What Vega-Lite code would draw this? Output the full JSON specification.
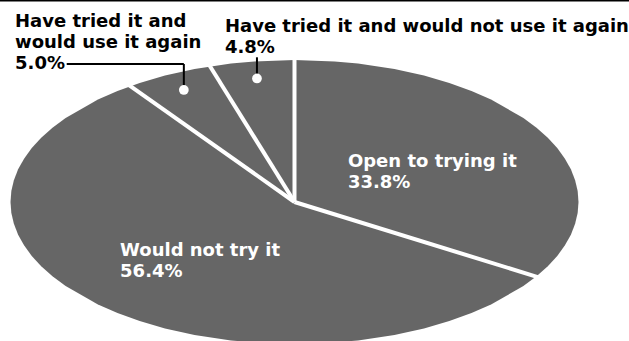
{
  "$schema": "https://vega.github.io/schema/vega-lite/v6.json",
  "width": 629,
  "height": 341,
  "padding": 0,
  "autosize": {"type": "none"},
  "background": "white",
  "config": {
    "view": {"stroke": null},
    "text": {"font": "DejaVu Sans", "fontWeight": "bold", "fontSize": 18}
  },
  "layer": [
    {
      "data": {"sphere": true},
      "mark": {"type": "geoshape", "fill": "#666666", "strokeWidth": 0},
      "projection": {"type": "mollweide", "scale": 100.409, "translate": [294.5, 202]}
    },
    {
      "data": {
        "values": [
          {"answer": "Open to trying it", "pct": 33.8},
          {"answer": "Would not try it", "pct": 56.4},
          {"answer": "Have tried it and would use it again", "pct": 5.0},
          {"answer": "Have tried it and would not use it again", "pct": 4.8}
        ]
      },
      "transform": [
        {"window": [{"op": "sum", "field": "pct", "as": "cum"}], "frame": [null, 0], "ignorePeers": true},
        {"calculate": "2 * PI * (datum.cum - datum.pct) / 100", "as": "a0"},
        {"calculate": "2 * PI * (datum.cum - datum.pct / 2) / 100", "as": "am"},
        {"calculate": "1.02 * sin(datum.a0)", "as": "ex"},
        {"calculate": "1.02 * cos(datum.a0)", "as": "ey"},
        {"calculate": "0.88 * sin(datum.am)", "as": "px"},
        {"calculate": "0.88 * cos(datum.am)", "as": "py"},
        {"calculate": "0.515 * sin(datum.am)", "as": "lx"},
        {"calculate": "0.515 * cos(datum.am)", "as": "ly"},
        {"calculate": "datum.answer + '\\n' + format(datum.pct, '.1f') + '%'", "as": "label"}
      ],
      "layer": [
        {
          "mark": {"type": "rule", "color": "white", "strokeWidth": 4},
          "encoding": {
            "x": {"field": "ex", "type": "quantitative", "scale": {"domain": [-1.03697, 1.17782], "nice": false, "zero": false}, "axis": null},
            "y": {"field": "ey", "type": "quantitative", "scale": {"domain": [-0.97887, 1.42254], "nice": false, "zero": false}, "axis": null},
            "x2": {"datum": 0},
            "y2": {"datum": 0}
          }
        },
        {
          "transform": [{"filter": "datum.pct > 50"}],
          "mark": {"type": "rect", "color": "#000000", "opacity": 1},
          "encoding": {
            "x": {"datum": -1.03697, "type": "quantitative", "scale": {"domain": [-1.03697, 1.17782], "nice": false, "zero": false}, "axis": null},
            "x2": {"datum": 1.17782},
            "y": {"datum": 1.42254, "type": "quantitative", "scale": {"domain": [-0.97887, 1.42254], "nice": false, "zero": false}, "axis": null},
            "y2": {"datum": 1.4126}
          }
        },
        {
          "transform": [{"filter": {"field": "answer", "equal": "Have tried it and would use it again"}}],
          "mark": {"type": "rule", "color": "#000000", "strokeWidth": 2},
          "encoding": {
            "x": {"field": "px", "type": "quantitative", "scale": {"domain": [-1.03697, 1.17782], "nice": false, "zero": false}, "axis": null},
            "y": {"field": "py", "type": "quantitative", "scale": {"domain": [-0.97887, 1.42254], "nice": false, "zero": false}, "axis": null},
            "y2": {"datum": 0.9718}
          }
        },
        {
          "transform": [{"filter": {"field": "answer", "equal": "Have tried it and would use it again"}}],
          "mark": {"type": "rule", "color": "#000000", "strokeWidth": 2},
          "encoding": {
            "x": {"field": "px", "type": "quantitative", "scale": {"domain": [-1.03697, 1.17782], "nice": false, "zero": false}, "axis": null},
            "x2": {"datum": -0.8021},
            "y": {"datum": 0.9718, "type": "quantitative", "scale": {"domain": [-0.97887, 1.42254], "nice": false, "zero": false}, "axis": null}
          }
        },
        {
          "transform": [{"filter": {"field": "answer", "equal": "Have tried it and would not use it again"}}],
          "mark": {"type": "rule", "color": "#000000", "strokeWidth": 2},
          "encoding": {
            "x": {"field": "px", "type": "quantitative", "scale": {"domain": [-1.03697, 1.17782], "nice": false, "zero": false}, "axis": null},
            "y": {"field": "py", "type": "quantitative", "scale": {"domain": [-0.97887, 1.42254], "nice": false, "zero": false}, "axis": null},
            "y2": {"datum": 1.019}
          }
        },
        {
          "transform": [{"filter": "datum.pct < 10"}],
          "mark": {"type": "point", "shape": "circle", "filled": true, "fill": "white", "opacity": 1, "size": 95, "strokeWidth": 0},
          "encoding": {
            "x": {"field": "px", "type": "quantitative", "scale": {"domain": [-1.03697, 1.17782], "nice": false, "zero": false}, "axis": null},
            "y": {"field": "py", "type": "quantitative", "scale": {"domain": [-0.97887, 1.42254], "nice": false, "zero": false}, "axis": null}
          }
        },
        {
          "transform": [{"filter": "datum.pct >= 10"}],
          "mark": {"type": "text", "align": "left", "baseline": "alphabetic", "dx": -74.3, "dy": 0.2, "fill": "white", "lineBreak": "\n", "lineHeight": 21.5},
          "encoding": {
            "x": {"field": "lx", "type": "quantitative", "scale": {"domain": [-1.03697, 1.17782], "nice": false, "zero": false}, "axis": null},
            "y": {"field": "ly", "type": "quantitative", "scale": {"domain": [-0.97887, 1.42254], "nice": false, "zero": false}, "axis": null},
            "text": {"field": "label", "type": "nominal"}
          }
        },
        {
          "transform": [
            {"filter": {"field": "answer", "equal": "Have tried it and would use it again"}},
            {"calculate": "replace(datum.answer, 'and ', 'and\\n') + '\\n' + format(datum.pct, '.1f') + '%'", "as": "label3"}
          ],
          "mark": {"type": "text", "align": "left", "baseline": "alphabetic", "dx": -168.8, "dy": -63.3, "fill": "#000000", "lineBreak": "\n", "lineHeight": 21.3},
          "encoding": {
            "x": {"field": "px", "type": "quantitative", "scale": {"domain": [-1.03697, 1.17782], "nice": false, "zero": false}, "axis": null},
            "y": {"field": "py", "type": "quantitative", "scale": {"domain": [-0.97887, 1.42254], "nice": false, "zero": false}, "axis": null},
            "text": {"field": "label3", "type": "nominal"}
          }
        },
        {
          "transform": [{"filter": {"field": "answer", "equal": "Have tried it and would not use it again"}}],
          "mark": {"type": "text", "align": "left", "baseline": "alphabetic", "dx": -32, "dy": -46.1, "fill": "#000000", "lineBreak": "\n", "lineHeight": 21.1},
          "encoding": {
            "x": {"field": "px", "type": "quantitative", "scale": {"domain": [-1.03697, 1.17782], "nice": false, "zero": false}, "axis": null},
            "y": {"field": "py", "type": "quantitative", "scale": {"domain": [-0.97887, 1.42254], "nice": false, "zero": false}, "axis": null},
            "text": {"field": "label", "type": "nominal"}
          }
        }
      ]
    }
  ]
}
